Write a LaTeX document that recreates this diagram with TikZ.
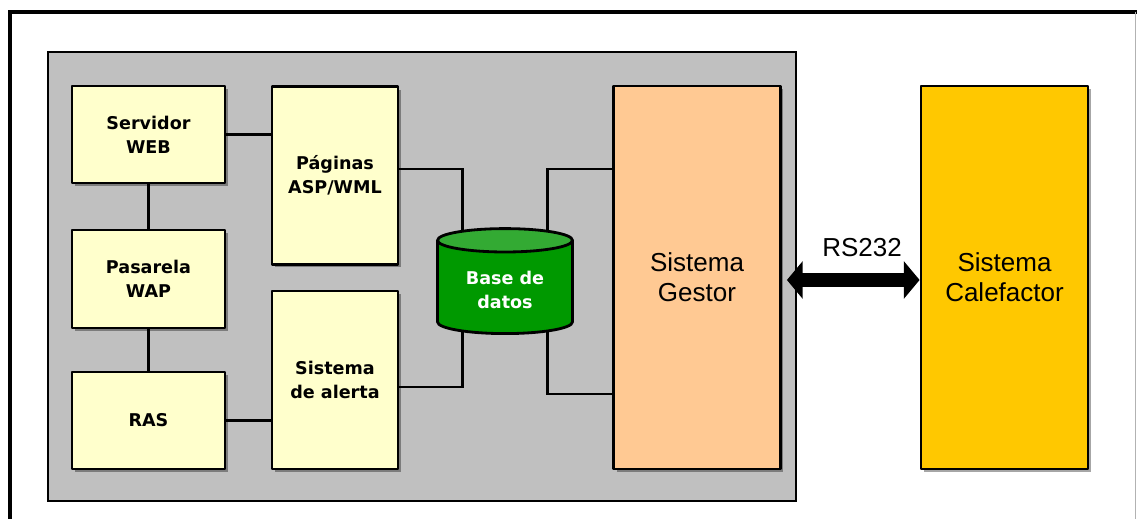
\documentclass[tikz,border=0pt]{standalone}
\usepackage{fontspec}
\usetikzlibrary{calc,shapes.geometric,shadows,arrows.meta,backgrounds}

\newfontfamily\boxfont{DejaVu Sans}
\newfontfamily\bigfont{Liberation Sans}

\definecolor{panelgray}{HTML}{C0C0C0}
\definecolor{boxyellow}{HTML}{FFFFCC}
\definecolor{gestorpeach}{HTML}{FFC993}
\definecolor{calefgold}{HTML}{FFC800}
\definecolor{dbgreen}{HTML}{009900}
\definecolor{dbtop}{HTML}{33AA33}

\tikzset{
  unit/.style={draw, line width=1.6pt, fill=boxyellow, align=center,
    font=\boxfont\bfseries\fontsize{10}{13.5}\selectfont,
    drop shadow={shadow xshift=0.06cm, shadow yshift=-0.06cm, fill=black, opacity=0.35}},
  bigunit/.style={unit, font=\bigfont\fontsize{14.8}{17}\selectfont},
  store/.style={cylinder, shape border rotate=90, aspect=0.26, draw, line width=1.6pt,
    cylinder uses custom fill, cylinder body fill=dbgreen, cylinder end fill=dbtop,
    text=white, align=center, font=\boxfont\bfseries\fontsize{10}{13.5}\selectfont},
  wire/.style={line width=1.3pt},
  rslink/.style={line width=7.5pt, {Triangle[length=9pt,width=21pt]}-{Triangle[length=9pt,width=21pt]}},
}

\begin{document}
\begin{tikzpicture}[x=0.02cm, y=-0.02cm, line join=round]
	\useasboundingbox (0,0) rectangle (1137,519);

	% Left column
	\node[unit, minimum width=3.06cm, minimum height=1.94cm] (srv) at (148.5,134.5) {Servidor\\WEB};
	\node[unit, minimum width=3.06cm, minimum height=1.96cm] (wap) at (148.5,279) {Pasarela\\WAP};
	\node[unit, minimum width=3.06cm, minimum height=1.94cm] (ras) at (148.5,420.5) {RAS};

	% Middle column
	\node[unit, minimum width=2.52cm, minimum height=3.56cm] (pag) at (335,175.5) {P\'aginas\\ASP/WML};
	\node[unit, minimum width=2.52cm, minimum height=3.56cm] (ale) at (335,380) {Sistema\\de alerta};

	% Database
	\node[store, minimum width=2.7cm, minimum height=2.1cm, anchor=south] (db) at (505,335) {Base de\\datos};
	\coordinate (dbL) at ($(db.center)+(-42.5,0)$);
	\coordinate (dbR) at ($(db.center)+(42.5,0)$);

	% Right side
	\node[bigunit, fill=gestorpeach, minimum width=3.34cm, minimum height=7.66cm] (ges) at (697,277.5) {Sistema\\Gestor};
	\node[bigunit, fill=calefgold, minimum width=3.34cm, minimum height=7.66cm] (cal) at (1004.5,277.5) {Sistema\\Calefactor};

	% Serial link
	\draw[rslink] ($(ges.east)+(5,2.5)$) -- ($(cal.west)+(0,2.5)$);
	\node[font=\bigfont\fontsize{14.8}{17}\selectfont] (rs) at (862,248) {RS232};

	\begin{pgfonlayer}{background}
		% Frame
		\draw[line width=2pt] (10,530) |- (1150,12);
		\draw[gray!60, line width=0.6pt] (1135.5,12) -- (1135.5,530);
		% Gray panel
		\draw[fill=panelgray, line width=1.3pt] (48,52) rectangle (796,501);
		% Wiring
		\draw[wire] (srv.east) -- (srv.east -| pag.west);
		\draw[wire] (srv.south) -- (wap.north);
		\draw[wire] (wap.south) -- (ras.north);
		\draw[wire] (ras.east) -- (ras.east -| ale.west);
		\draw[wire] ($(pag.east)+(0,-6.5)$) -| (dbL);
		\draw[wire] ($(ale.east)+(0,7)$) -| (dbL);
		\draw[wire] (dbR) |- ($(ges.west)+(0,-108.5)$);
		\draw[wire] (dbR) |- ($(ges.west)+(0,116.5)$);
	\end{pgfonlayer}
\end{tikzpicture}
\end{document}
